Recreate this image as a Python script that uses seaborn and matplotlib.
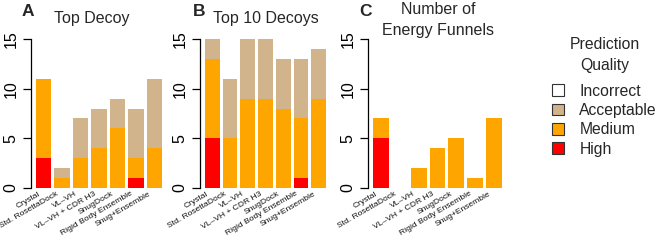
import numpy as np
import pandas as pd
import matplotlib
matplotlib.use("Agg")
import matplotlib.pyplot as plt
from matplotlib.patches import Patch
from matplotlib.transforms import ScaledTranslation
import seaborn as sns

sns.set_theme(style="white")
plt.rcParams["font.family"] = ["Liberation Sans", "DejaVu Sans"]

methods = ["Crystal", "Std. RosettaDock", "VL\u2013VH", "VL\u2013VH + CDR H3",
           "SnugDock", "Rigid Body Ensemble", "Snug+Ensemble"]

# counts per quality level
top_high = [3, 0, 0, 0, 0, 1, 0]
top_medium = [8, 1, 3, 4, 6, 2, 4]
top_acceptable = [0, 1, 4, 4, 3, 5, 7]

top10_high = [5, 0, 0, 0, 0, 1, 0]
top10_medium = [8, 5, 9, 9, 8, 6, 9]
top10_acceptable = [2, 6, 6, 6, 5, 6, 5]

funnel_high = [5, 0, 0, 0, 0, 0, 0]
funnel_medium = [2, 0, 2, 4, 5, 1, 7]
funnel_acceptable = [0, 0, 0, 0, 0, 0, 0]

levels = ["Incorrect", "Acceptable", "Medium", "High"]
colors = {"Incorrect": "#FFFFFF", "Acceptable": "#D2B48C",
          "Medium": "#FFA500", "High": "#FF0000"}

panels = [
    ("A", "Top Decoy", top_high, top_medium, top_acceptable),
    ("B", "Top 10 Decoys", top10_high, top10_medium, top10_acceptable),
    ("C", "Number of\nEnergy Funnels", funnel_high, funnel_medium, funnel_acceptable),
]

W, H = 662, 241
fig = plt.figure(figsize=(W / 100, H / 100), dpi=100)

# axes geometry in pixels: (left, width)
ax_px = [(31, 136), (200, 131), (368, 139)]
y_top, y_bot = 33, 194

bw = 1 / 1.2
ext = (7 - 1 + bw) * 0.04
xlim = (-bw / 2 - ext, 6 + bw / 2 + ext)

letter_pos = [(28, 12), (199, 12), (366, 12)]
title_pos = [(92, 18), (266, 18), (438, 19.5)]

shift = ScaledTranslation(-4 / 100, 0, fig.dpi_scale_trans)

for i, (letter, title, hi, me, ac) in enumerate(panels):
    l, w = ax_px[i]
    ax = fig.add_axes([l / W, 1 - y_bot / H, w / W, (y_bot - y_top) / H])
    hi = np.array(hi); me = np.array(me); ac = np.array(ac)
    cum_high = hi
    cum_med = hi + me
    cum_acc = hi + me + ac
    df = pd.DataFrame({
        "method": methods * 3,
        "level": ["Acceptable"] * 7 + ["Medium"] * 7 + ["High"] * 7,
        "value": np.concatenate([cum_acc, cum_med, cum_high]),
    })
    for lev in ["Acceptable", "Medium", "High"]:
        sub = df[df["level"] == lev]
        sns.barplot(data=sub, x="method", y="value", order=methods,
                    color=colors[lev], saturation=1, width=bw,
                    errorbar=None, linewidth=0, ax=ax)
    ax.set_xlim(*xlim)
    ax.set_ylim(-0.6, 15.6)
    ax.set_xlabel("")
    ax.set_ylabel("")
    for s in ["top", "right", "bottom"]:
        ax.spines[s].set_visible(False)
    ax.spines["left"].set_bounds(0, 15)
    ax.spines["left"].set_color("black")
    ax.spines["left"].set_linewidth(0.9)
    ax.set_yticks([0, 5, 10, 15])
    ax.set_yticklabels(["0", "5", "10", "15"], rotation=90, va="center",
                       fontsize=11.5)
    ax.tick_params(axis="y", left=True, length=5.8, width=0.9, pad=3,
                   color="black", labelcolor="black")
    ax.tick_params(axis="x", bottom=False, length=0, pad=-0.5)
    ax.set_xticks(range(7))
    ax.set_xticklabels(methods, rotation=30, ha="right", va="center",
                       rotation_mode="anchor", fontsize=6.1, color="#111111")
    for lab in ax.get_xticklabels():
        lab.set_transform(lab.get_transform() + shift)
    ax.set_facecolor("none")
    fig.text(letter_pos[i][0] / W, 1 - letter_pos[i][1] / H, letter,
             fontsize=12.5, fontweight="bold", ha="center", va="center")
    fig.text(title_pos[i][0] / W, 1 - title_pos[i][1] / H, title,
             fontsize=11.5, ha="center", va="center", linespacing=1.5)

# legend: title as text, entries through fig.legend
fig.text(605 / W, 1 - 55 / H, "Prediction\nQuality", fontsize=11.3,
         ha="center", va="center", linespacing=1.55, multialignment="center")
handles = [Patch(facecolor=colors[l], edgecolor="#333333", linewidth=0.8)
           for l in levels]
leg = fig.legend(handles, levels, loc="upper left",
                 bbox_to_anchor=(552 / W, 1 - 83.5 / H), frameon=False,
                 fontsize=11.3, handlelength=0.75, handleheight=0.75,
                 handletextpad=1.0, labelspacing=0.28,
                 borderaxespad=0, borderpad=0)

fig.savefig("out.png", dpi=100)
